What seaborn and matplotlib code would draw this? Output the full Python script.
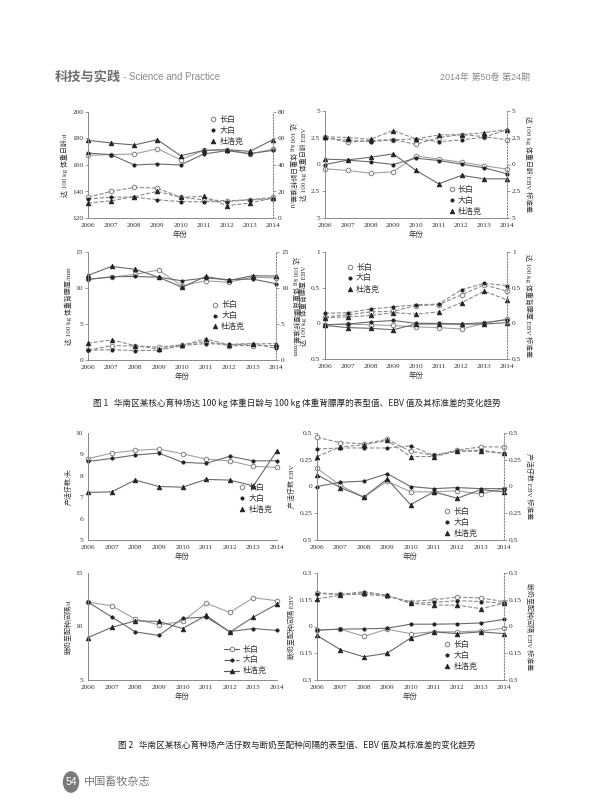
import matplotlib
matplotlib.use('Agg')
import matplotlib.pyplot as plt
from matplotlib.lines import Line2D
from matplotlib.patches import Circle
import seaborn as sns

sns.set_style('white')
plt.rcParams['font.family'] = ['Liberation Serif', 'Noto Sans CJK SC', 'DejaVu Sans']
plt.rcParams['axes.unicode_minus'] = False

W, H = 593, 800
years = [2006, 2007, 2008, 2009, 2010, 2011, 2012, 2013, 2014]
breeds = ['长白', '大白', '杜洛克']

# 图1 达100 kg体重日龄
age_pheno = {'长白': [167.3, 167.8, 168.3, 172.3, 164.0, 171.0, 171.6, 168.3, 172.0],
             '大白': [169.0, 167.8, 160.0, 160.8, 160.0, 168.3, 170.8, 168.6, 171.0],
             '杜洛克': [178.6, 176.6, 175.1, 179.1, 167.0, 171.0, 171.6, 170.3, 179.1]}
age_pheno_sd = {'长白': [15.6, 20.1, 23.1, 22.6, 15.6, 13.8, 13.0, 13.8, 15.6],
                '大白': [14.3, 15.8, 15.8, 13.8, 12.3, 12.3, 12.3, 13.8, 14.3],
                '杜洛克': [11.3, 13.0, 16.1, 20.1, 15.6, 16.4, 9.3, 11.3, 15.1]}
age_ebv = {'长白': [-0.40, -0.56, -0.81, -0.68, 0.81, 0.50, 0.22, -0.12, -0.43],
           '大白': [0.00, 0.40, 0.25, 0.00, 0.59, 0.37, 0.03, -0.31, -0.87],
           '杜洛克': [0.50, 0.43, 0.68, 0.99, -0.56, -1.80, -1.02, -1.34, -1.34]}
age_ebv_sd = {'长白': [2.55, 2.08, 2.24, 2.33, 1.89, 2.52, 2.80, 2.60, 2.30],
              '大白': [2.45, 2.27, 2.14, 2.30, 2.39, 2.14, 2.30, 2.55, 3.26],
              '杜洛克': [2.60, 2.52, 2.36, 3.17, 2.39, 2.76, 2.80, 2.98, 3.26]}

# 图1 达100 kg体重背膘厚
bf_pheno = {'长白': [11.2, 11.5, 11.9, 12.5, 10.3, 11.0, 10.8, 11.5, 11.4],
            '大白': [11.2, 11.56, 11.6, 11.5, 11.0, 11.4, 11.15, 11.24, 10.6],
            '杜洛克': [11.75, 13.0, 12.6, 11.5, 10.1, 11.6, 11.05, 11.7, 11.66]}
bf_pheno_sd = {'长白': [1.35, 2.0, 1.95, 1.8, 2.1, 2.55, 2.0, 2.0, 2.0],
               '大白': [1.35, 1.44, 1.3, 1.35, 2.0, 2.28, 2.18, 2.28, 1.63],
               '杜洛克': [2.32, 2.8, 2.0, 1.53, 2.04, 2.93, 2.1, 2.23, 2.28]}
bf_ebv = {'长白': [-0.02, -0.01, -0.02, -0.03, -0.05, -0.06, -0.08, 0.0, 0.06],
          '大白': [-0.02, -0.01, 0.02, 0.04, 0.0, 0.0, -0.01, 0.01, 0.05],
          '杜洛克': [-0.03, -0.06, -0.07, -0.09, -0.01, -0.01, -0.01, -0.01, 0.01]}
bf_ebv_sd = {'长白': [0.09, 0.12, 0.16, 0.17, 0.25, 0.26, 0.40, 0.54, 0.45],
             '大白': [0.14, 0.15, 0.20, 0.23, 0.26, 0.27, 0.47, 0.56, 0.53],
             '杜洛克': [0.08, 0.09, 0.11, 0.15, 0.13, 0.16, 0.29, 0.45, 0.33]}

# 图2 产活仔数
nba_pheno = {'长白': [8.8, 9.06, 9.19, 9.25, 9.03, 8.78, 8.7, 8.44, 8.39],
             '大白': [8.67, 8.81, 8.97, 9.06, 8.63, 8.58, 8.91, 8.7, 8.7],
             '杜洛克': [7.22, 7.25, 7.8, 7.5, 7.47, 7.83, 7.8, 7.53, 9.17]}
nba_ebv = {'长白': [0.17, 0.01, -0.10, 0.05, -0.05, -0.05, -0.04, -0.07, -0.02],
           '大白': [0.0, 0.04, 0.05, 0.12, 0.0, -0.02, -0.01, -0.02, -0.02],
           '杜洛克': [0.11, -0.01, -0.10, 0.07, -0.17, -0.05, -0.11, -0.03, -0.05]}
nba_ebv_sd = {'长白': [0.46, 0.41, 0.40, 0.44, 0.33, 0.29, 0.34, 0.37, 0.37],
              '大白': [0.35, 0.36, 0.36, 0.36, 0.38, 0.29, 0.33, 0.34, 0.31],
              '杜洛克': [0.28, 0.37, 0.39, 0.43, 0.28, 0.28, 0.33, 0.33, 0.31]}

# 图2 断奶至配种间隔
wsi_pheno = {'长白': [12.28, 11.94, 10.69, 10.16, 10.47, 12.19, 11.31, 12.69, 12.41],
             '大白': [12.28, 10.9, 9.5, 9.16, 10.75, 10.88, 9.53, 9.81, 9.63],
             '杜洛克': [8.97, 9.91, 10.53, 10.47, 9.81, 11.03, 9.47, 10.88, 12.09]}
wsi_ebv = {'长白': [-0.02, -0.015, -0.055, -0.015, -0.04, -0.03, -0.03, -0.025, -0.01],
           '大白': [-0.02, -0.015, -0.013, -0.01, 0.013, 0.013, 0.015, 0.02, 0.04],
           '杜洛克': [-0.05, -0.13, -0.17, -0.15, -0.065, -0.03, -0.04, -0.03, -0.04]}
wsi_ebv_sd = {'长白': [0.19, 0.18, 0.18, 0.17, 0.14, 0.15, 0.165, 0.16, 0.14],
              '大白': [0.185, 0.18, 0.195, 0.175, 0.13, 0.135, 0.145, 0.14, 0.13],
              '杜洛克': [0.155, 0.175, 0.19, 0.175, 0.13, 0.12, 0.12, 0.10, 0.13]}

grey = '#8a8a8a'
style = {'长白': dict(marker='o', ms=3.2, mfc='white', mec='#8a8a8a', mew=0.8),
         '大白': dict(marker='o', ms=2.4, mfc='#222222', mec='#222222', mew=0.5),
         '杜洛克': dict(marker='^', ms=3.4, mfc='#222222', mec='#222222', mew=0.5)}
line_col = {'长白': '#a0a0a0', '大白': '#6a6a6a', '杜洛克': '#6a6a6a'}

fs_tick = 5.3
fs_lab = 5.0


def rect(x0, y0, x1, y1):
    return [x0 / W, 1 - y1 / H, (x1 - x0) / W, (y1 - y0) / H]


def style_axis(ax, ylim, yticks, ylabels):
    ax.set_xlim(2006, 2014)
    ax.set_ylim(*ylim)
    ax.set_xticks(years)
    ax.set_xticklabels([str(y) for y in years], fontsize=fs_tick)
    ax.set_yticks(yticks)
    ax.set_yticklabels(ylabels, fontsize=fs_tick)
    for s in ['top', 'right']:
        ax.spines[s].set_visible(False)
    for s in ['left', 'bottom']:
        ax.spines[s].set_color(grey)
        ax.spines[s].set_linewidth(0.7)
    ax.tick_params(axis='both', length=2, width=0.6, color=grey, pad=1.5,
                   labelcolor='#333333', direction='out')
    ax.set_xlabel('年份', fontsize=fs_lab + 0.3, labelpad=2, color='#333333')
    ax.grid(False)
    ax.set_facecolor('none')


def left_label(ax, label):
    ax.set_ylabel(label, fontsize=fs_lab, labelpad=3, color='#333333')


def plot_set(ax, data, dashed=False):
    for b in breeds:
        kw = dict(style[b])
        sns.lineplot(x=years, y=data[b], ax=ax, color=grey if dashed else line_col[b],
                     linestyle='--' if dashed else '-', linewidth=0.8, clip_on=False,
                     **kw)


def add_legend(ax, loc, with_lines=False):
    hs = []
    for b in breeds:
        kw = dict(style[b])
        if with_lines:
            ls = '-.' if b == '大白' else '-'
            hs.append(Line2D([], [], color='#555555', linestyle=ls, linewidth=0.8, **kw))
        else:
            hs.append(Line2D([], [], linestyle='none', **kw))
    leg = ax.legend(hs, breeds, loc='upper left', bbox_to_anchor=loc, frameon=False,
                    fontsize=5.8, handlelength=1.8 if with_lines else 0.6,
                    handletextpad=0.5, labelspacing=0.35, borderpad=0)
    for t in leg.get_texts():
        t.set_color('#333333')


def twin(ax, ylim, yticks, ylabels, label):
    ax2 = ax.twinx()
    ax2.set_ylim(*ylim)
    ax2.set_yticks(yticks)
    ax2.set_yticklabels(ylabels, fontsize=fs_tick)
    for s in ['top', 'left', 'bottom']:
        ax2.spines[s].set_visible(False)
    ax2.spines['right'].set_linestyle(':')
    ax2.spines['right'].set_color(grey)
    ax2.spines['right'].set_linewidth(0.8)
    ax2.tick_params(axis='y', length=2, width=0.6, color=grey, pad=1.5,
                    labelcolor='#333333', direction='out')
    ax2.set_ylabel(label, fontsize=fs_lab, rotation=270, va='bottom', labelpad=3,
                   color='#333333')
    ax2.grid(False)
    return ax2


fig = plt.figure(figsize=(W / 100, H / 100), dpi=100)

# 页眉
fig.text(55 / W, 1 - 77 / H, '科技与实践', fontsize=9.5, fontweight='bold', color='#6f6f6f',
         family=['Noto Sans CJK SC'], va='center')
fig.text(123 / W, 1 - 77 / H, '- Science and Practice', fontsize=7, color='#8a8a8a',
         family=['Liberation Sans'], va='center')
fig.text(530 / W, 1 - 77 / H, '2014年 第50卷 第24期', fontsize=6.5, color='#8a8a8a',
         family=['Liberation Sans', 'Noto Sans CJK SC'], va='center', ha='right')

# 图1 左上
ax = fig.add_axes(rect(88, 112, 273, 218))
plot_set(ax, age_pheno)
style_axis(ax, (120, 200), [120, 140, 160, 180, 200], ['120', '140', '160', '180', '200'])
left_label(ax, '达 100 kg 体重日龄/d')
ax2 = twin(ax, (0, 80), [0, 20, 40, 60, 80], ['0', '20', '40', '60', '80'],
           '达 100 kg 体重日龄标准差/d')
plot_set(ax2, age_pheno_sd, dashed=True)
add_legend(ax, (0.64, 1.0))

# 图1 右上
ax = fig.add_axes(rect(325, 111, 507, 218))
plot_set(ax, age_ebv)
lab5 = ['5', '2.5', '0', '2.5', '5']
style_axis(ax, (-5, 5), [-5, -2.5, 0, 2.5, 5], lab5)
left_label(ax, '达 100 kg 体重日龄 EBV')
ax2 = twin(ax, (-5, 5), [-5, -2.5, 0, 2.5, 5], lab5, '达 100 kg 体重日龄 EBV 标准差')
plot_set(ax2, age_ebv_sd, dashed=True)
add_legend(ax, (0.66, 0.34))

# 图1 左中
ax = fig.add_axes(rect(88, 252, 276, 360))
plot_set(ax, bf_pheno)
style_axis(ax, (0, 15), [0, 5, 10, 15], ['0', '5', '10', '15'])
left_label(ax, '达 100 kg 体重背膘厚/mm')
ax2 = twin(ax, (0, 15), [0, 5, 10, 15], ['0', '5', '10', '15'], '达 100 kg 体重背膘厚标准差/mm')
plot_set(ax2, bf_pheno_sd, dashed=True)
add_legend(ax, (0.64, 0.58))

# 图1 右中
ax = fig.add_axes(rect(325, 252, 507, 359))
plot_set(ax, bf_ebv)
lab1 = ['0.5', '0', '0.5', '1']
style_axis(ax, (-0.5, 1), [-0.5, 0, 0.5, 1], lab1)
left_label(ax, '达 100 kg 体重背膘厚 EBV')
ax2 = twin(ax, (-0.5, 1), [-0.5, 0, 0.5, 1], lab1, '达 100 kg 体重背膘厚 EBV 标准差')
plot_set(ax2, bf_ebv_sd, dashed=True)
add_legend(ax, (0.1, 0.93))

fig.text(W / 2 / W, 1 - 403 / H,
         '图 1   华南区某核心育种场达 100 kg 体重日龄与 100 kg 体重背膘厚的表型值、EBV 值及其标准差的变化趋势',
         fontsize=6.2, ha='center', va='center', color='#222222',
         family=['Noto Sans CJK SC', 'DejaVu Sans'])

# 图2 左上
ax = fig.add_axes(rect(88, 433, 277, 540))
plot_set(ax, nba_pheno)
style_axis(ax, (5, 10), [5, 6, 7, 8, 9, 10], ['5', '6', '7', '8', '9', '10'])
left_label(ax, '产活仔数/头')
add_legend(ax, (0.78, 0.56))

# 图2 右上
ax = fig.add_axes(rect(317, 433, 504, 540))
plot_set(ax, nba_ebv)
lab05 = ['0.5', '0.25', '0', '0.25', '0.5']
style_axis(ax, (-0.5, 0.5), [-0.5, -0.25, 0, 0.25, 0.5], lab05)
left_label(ax, '产活仔数 EBV')
ax2 = twin(ax, (-0.5, 0.5), [-0.5, -0.25, 0, 0.25, 0.5], lab05, '产活仔数 EBV 标准差')
plot_set(ax2, nba_ebv_sd, dashed=True)
add_legend(ax, (0.66, 0.34))

# 图2 左下
ax = fig.add_axes(rect(88, 573, 277, 680))
plot_set(ax, wsi_pheno)
style_axis(ax, (5, 15), [5, 10, 15], ['5', '10', '15'])
left_label(ax, '断奶至配种间隔/d')
add_legend(ax, (0.7, 0.36), with_lines=True)

# 图2 右下
ax = fig.add_axes(rect(317, 573, 504, 680))
plot_set(ax, wsi_ebv)
lab03 = ['0.3', '0.15', '0', '0.15', '0.3']
style_axis(ax, (-0.3, 0.3), [-0.3, -0.15, 0, 0.15, 0.3], lab03)
left_label(ax, '断奶至配种间隔 EBV')
ax2 = twin(ax, (-0.3, 0.3), [-0.3, -0.15, 0, 0.15, 0.3], lab03, '断奶至配种间隔 EBV 标准差')
plot_set(ax2, wsi_ebv_sd, dashed=True)
add_legend(ax, (0.66, 0.4))

fig.text(W / 2 / W, 1 - 745 / H,
         '图 2   华南区某核心育种场产活仔数与断奶至配种间隔的表型值、EBV 值及其标准差的变化趋势',
         fontsize=6.2, ha='center', va='center', color='#222222',
         family=['Noto Sans CJK SC', 'DejaVu Sans'])

# 页脚
fig.patches.append(Circle((71 / W, 1 - 782 / H), 7.5 / W, transform=fig.transFigure,
                          color='#7a7a7a', zorder=0))
fig.text(71 / W, 1 - 782 / H, '54', fontsize=7.5, color='white', ha='center', va='center',
         family=['Liberation Sans'])
fig.text(84 / W, 1 - 782 / H, '中国畜牧杂志', fontsize=8, color='#777777', va='center',
         family=['Noto Sans CJK SC'])

fig.savefig('out.png', dpi=100)
